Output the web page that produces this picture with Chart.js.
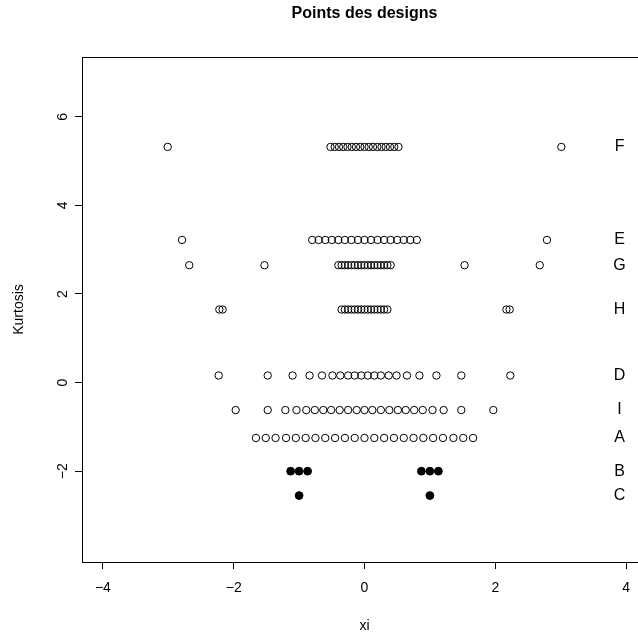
<!DOCTYPE html>
<html>
<head>
<meta charset="utf-8">
<script src="https://cdn.jsdelivr.net/npm/chart.js@4.4.1/dist/chart.umd.min.js"></script>
<style>
  html, body { margin: 0; padding: 0; background: #fff; overflow: hidden; }
  #wrap { width: 680px; height: 637px; }
</style>
</head>
<body>
<div id="wrap"><canvas id="c" width="680" height="637"></canvas></div>
<script>
// Design rows: name and kurtosis level of each row
const designNames = ['F', 'E', 'G', 'H', 'D', 'I', 'A', 'B', 'C'];
const kurtosis = [5.32, 3.22, 2.65, 1.65, 0.16, -0.62, -1.25, -2.0, -2.55];

// xi positions of the points of each design
const xiF = [-3.01, -0.52, -0.455, -0.39, -0.325, -0.26, -0.195, -0.13, -0.065, 0, 0.065, 0.13, 0.195, 0.26, 0.325, 0.39, 0.455, 0.52, 3.01];
const xiE = [-2.79, -0.8, -0.7, -0.6, -0.5, -0.4, -0.3, -0.2, -0.1, 0, 0.1, 0.2, 0.3, 0.4, 0.5, 0.6, 0.7, 0.8, 2.79];
const xiG = [-2.68, -1.53, -0.4, -0.35, -0.3, -0.25, -0.2, -0.15, -0.1, -0.05, 0, 0.05, 0.1, 0.15, 0.2, 0.25, 0.3, 0.35, 0.4, 1.53, 2.68];
const xiH = [-2.22, -2.17, -0.35, -0.3, -0.25, -0.2, -0.15, -0.1, -0.05, 0, 0.05, 0.1, 0.15, 0.2, 0.25, 0.3, 0.35, 2.17, 2.22];
const xiD = [-2.23, -1.48, -1.10, -0.84, -0.65, -0.49, -0.37, -0.25, -0.15, -0.05, 0.05, 0.15, 0.25, 0.37, 0.49, 0.65, 0.84, 1.10, 1.48, 2.23];
const xiI = [-1.97, -1.48, -1.21, -1.04, -0.89, -0.76, -0.63, -0.51, -0.38, -0.25, -0.12, 0, 0.12, 0.25, 0.38, 0.51, 0.63, 0.76, 0.89, 1.04, 1.21, 1.48, 1.97];
const xiA = [-1.66, -1.51, -1.36, -1.20, -1.05, -0.90, -0.75, -0.60, -0.45, -0.30, -0.15, 0, 0.15, 0.30, 0.45, 0.60, 0.75, 0.90, 1.05, 1.20, 1.36, 1.51, 1.66];
const xiB = [-1.13, -1.0, -0.87, 0.87, 1.0, 1.13];
const xiC = [-1.0, 1.0];
const xiByDesign = [xiF, xiE, xiG, xiH, xiD, xiI, xiA, xiB, xiC];
const filledDesigns = ['B', 'C'];

// Axis ticks and labels
const xTicks = [-4, -2, 0, 2, 4];
const xTickLabels = ['\u22124', '\u22122', '0', '2', '4'];
const yTicks = [-2, 0, 2, 4, 6];
const yTickLabels = ['\u22122', '0', '2', '4', '6'];
const rowLabelXi = 3.9;

const FONT = '"Liberation Sans", Arial, Helvetica, sans-serif';

const datasets = designNames.map((name, i) => {
  const filled = filledDesigns.includes(name);
  return {
    label: name,
    data: xiByDesign[i].map(v => ({ x: v, y: kurtosis[i] })),
    pointStyle: 'circle',
    pointRadius: filled ? 3.9 : 3.7,
    pointBorderWidth: 1,
    pointBorderColor: '#000',
    pointBackgroundColor: filled ? '#000' : 'rgba(0,0,0,0)',
    showLine: false
  };
});

// Plot frame and the design names on the right
const frameAndNames = {
  id: 'frameAndNames',
  afterDatasetsDraw(chart) {
    const { ctx, chartArea: a, scales: { x, y } } = chart;
    ctx.save();
    ctx.strokeStyle = '#000';
    ctx.lineWidth = 1;
    ctx.strokeRect(Math.round(a.left) + 0.5, Math.round(a.top) + 0.5,
                   Math.round(a.right - a.left), Math.round(a.bottom - a.top));
    ctx.fillStyle = '#000';
    ctx.font = '16px ' + FONT;
    ctx.textAlign = 'center';
    ctx.textBaseline = 'middle';
    designNames.forEach((n, i) => {
      ctx.fillText(n, x.getPixelForValue(rowLabelXi), y.getPixelForValue(kurtosis[i]));
    });
    ctx.restore();
  }
};

new Chart(document.getElementById('c'), {
  type: 'scatter',
  data: { datasets },
  plugins: [frameAndNames],
  options: {
    responsive: false,
    animation: false,
    events: [],
    layout: { padding: { left: 0, right: 33, top: 0, bottom: 0 } },
    plugins: {
      legend: { display: false },
      tooltip: { enabled: false },
      title: {
        display: true,
        text: 'Points des designs',
        fullSize: false,
        color: '#000',
        font: { family: FONT, size: 16, weight: 'bold', lineHeight: 1.2 },
        padding: { top: 4, bottom: 33.8 }
      }
    },
    scales: {
      x: {
        type: 'linear',
        min: -4.32,
        max: 4.32,
        afterBuildTicks: s => { s.ticks = xTicks.map(v => ({ value: v })); },
        afterFit: s => { s.height = 75; },
        ticks: {
          callback: (v, i) => xTickLabels[i],
          color: '#000',
          font: { family: FONT, size: 14 },
          padding: 11,
          maxRotation: 0,
          autoSkip: false
        },
        grid: { display: true, drawOnChartArea: false, drawTicks: true, tickLength: 7, color: '#000', lineWidth: 1 },
        border: { display: true, color: '#000', width: 1 },
        title: {
          display: true, text: 'xi', color: '#000',
          font: { family: FONT, size: 14, lineHeight: 1.2 },
          padding: { top: 0, bottom: 2 }
        }
      },
      y: {
        type: 'linear',
        min: -4.05,
        max: 7.35,
        afterBuildTicks: s => { s.ticks = yTicks.map(v => ({ value: v })); },
        afterFit: s => { s.width = 82; },
        ticks: {
          callback: (v, i) => yTickLabels[i],
          color: '#000',
          font: { family: FONT, size: 14 },
          minRotation: 90,
          maxRotation: 90,
          crossAlign: 'center',
          padding: 4,
          autoSkip: false
        },
        grid: { display: true, drawOnChartArea: false, drawTicks: true, tickLength: 7, color: '#000', lineWidth: 1 },
        border: { display: true, color: '#000', width: 1 },
        title: {
          display: true, text: 'Kurtosis', color: '#000',
          font: { family: FONT, size: 14, lineHeight: 1.2 },
          padding: { top: 11, bottom: 0 }
        }
      }
    }
  }
});
</script>
</body>
</html>
